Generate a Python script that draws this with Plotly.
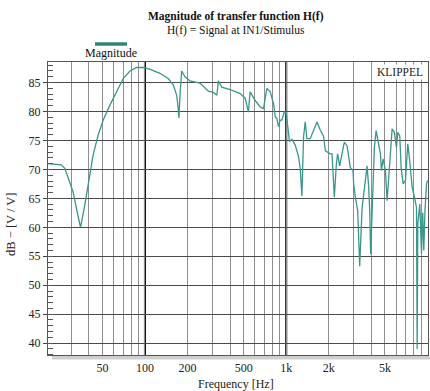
import numpy as np
import plotly.graph_objects as go

# ---------------- data ----------------
FREQ = [20.6, 22.5, 25.6, 27.1, 29.4, 31.0, 32.8, 35.0, 37.5, 39.6, 43.0, 46.6, 50.6,
        56.5, 63.0, 70.2, 78.3, 87.3, 97.3, 108, 127.7, 146, 158.7, 167.8, 172, 174,
        177, 180, 182, 192, 208, 245, 281, 305, 323, 331, 350, 401, 447, 472, 512,
        540, 555, 603, 654, 690, 730, 771, 792, 813, 836, 859, 882, 906, 931, 968,
        1000, 1021, 1055, 1097, 1158, 1222, 1256, 1291, 1326, 1363, 1401, 1479, 1562,
        1650, 1742, 1840, 1892, 1995, 2051, 2110, 2190, 2263, 2311, 2388, 2483, 2578,
        2694, 2766, 2843, 2971, 3000, 3084, 3205, 3311, 3443, 3632, 3734, 3835, 3900,
        3960, 4121, 4207, 4327, 4516, 4643, 4718, 4850, 5036, 5177, 5316, 5464, 5615,
        5830, 6024, 6155, 6362, 6508, 6722, 6980, 7250, 7486, 7787, 8084, 8356, 8451,
        8536, 8818, 9065, 9250, 9412, 9600, 9840, 10000]
DB = [71.0, 70.9, 70.8, 70.2, 67.8, 66.1, 63.2, 60.0, 63.8, 67.3, 72.5, 75.9, 78.5,
      81.1, 83.4, 85.7, 87.0, 87.6, 87.6, 87.3, 86.6, 85.7, 84.6, 82.8, 80.5, 78.9,
      82.8, 86.3, 87.0, 86.0, 85.3, 84.9, 83.5, 83.3, 82.8, 85.3, 84.2, 83.8, 83.3, 83.1, 82.3,
      79.9, 83.4, 81.9, 80.8, 80.5, 84.0, 83.4, 82.3, 81.4, 79.1, 78.8, 77.4, 78.5, 78.5, 79.9,
      79.7, 77.6, 74.8, 75.2, 74.2, 72.2, 70.2, 65.4, 75.6, 78.2, 75.3, 75.3, 76.8,
      78.2, 76.8, 75.7, 73.2, 72.9, 72.7, 72.7, 65.2, 70.9, 72.7, 70.6, 72.4, 74.7,
      74.1, 71.8, 70.3, 69.8, 67.5, 65.2, 62.9, 53.3, 63.4, 68.1, 70.6, 66.9, 62.9,
      55.4, 68.6, 73.8, 76.7, 74.4, 72.7, 69.8, 71.8, 69.8, 64.6, 68.6, 73.8, 77.0,
      76.4, 73.8, 76.4, 75.8, 70.3, 67.5, 68.1, 74.4, 71.5, 66.9, 65.2, 63.4, 39.0,
      60.6, 64.0, 55.5, 62.5, 56.0, 63.0, 67.5, 68.1]

X_TICK_VALS = [50, 100, 200, 500, 1000, 2000, 5000]
X_TICK_TEXT = ["50", "100", "200", "500", "1k", "2k", "5k"]
X_MINOR_GRID = [30, 40, 60, 70, 80, 90, 300, 400, 600, 700, 800, 900,
                3000, 4000, 6000, 7000, 8000, 9000]
DECADE_LINES = [100, 1000]
Y_TICKS = [40, 45, 50, 55, 60, 65, 70, 75, 80, 85]

# ---------------- layout geometry ----------------
W, H = 430, 391
ML, MR, MT, MB = 48, 2, 62, 36
PW, PH = W - ML - MR, H - MT - MB


def px_x(px):
    return (px - ML) / PW


def px_y(py):
    return (H - MB - py) / PH


LINE_COLOR = "#3a968a"
FONT = "Liberation Serif"

fig = go.Figure()
fig.add_trace(go.Scatter(x=FREQ, y=DB, mode="lines",
                         line=dict(color=LINE_COLOR, width=1.3),
                         showlegend=False, hoverinfo="skip"))

fig.update_layout(
    width=W, height=H,
    margin=dict(l=ML, r=MR, t=MT, b=MB),
    paper_bgcolor="white", plot_bgcolor="white",
    font=dict(family=FONT, size=12, color="#222"),
    showlegend=False,
)

fig.update_xaxes(
    type="log", range=[np.log10(20.6), np.log10(10080)],
    tickmode="array", tickvals=X_TICK_VALS, ticktext=X_TICK_TEXT,
    ticks="", ticklabelstandoff=2,
    showgrid=True, gridcolor="#8f8f8f", gridwidth=1,
    minor=dict(tickmode="array", tickvals=X_MINOR_GRID, showgrid=True,
               gridcolor="#8f8f8f", gridwidth=1, ticks=""),
    showline=True, linecolor="#555", linewidth=1, mirror=True,
    zeroline=False, tickfont=dict(family=FONT, size=12, color="#222"),
)

fig.update_yaxes(
    range=[37.95, 88.55],
    tickmode="array", tickvals=Y_TICKS,
    ticks="outside", ticklen=4, tickcolor="#444", tickwidth=1,
    showgrid=True, gridcolor="#4a4a4a", gridwidth=1,
    minor=dict(dtick=1, ticks="inside", ticklen=5, tickcolor="#555",
               tickwidth=1, showgrid=False),
    showline=True, linecolor="#555", linewidth=1, mirror=True,
    zeroline=False, tickfont=dict(family=FONT, size=12, color="#222"),
)

shapes = []
for d in DECADE_LINES:
    shapes.append(dict(type="line", xref="x", yref="paper", x0=d, x1=d, y0=0, y1=1,
                       line=dict(color="black", width=2), layer="between"))
# bottom shadow under the frame
shapes.append(dict(type="rect", xref="paper", yref="paper",
                   x0=px_x(52), x1=px_x(430), y0=px_y(359.5), y1=px_y(356),
                   fillcolor="#cfcfcf", line=dict(width=0), layer="below"))
# legend swatch
shapes.append(dict(type="rect", xref="paper", yref="paper",
                   x0=px_x(95), x1=px_x(127), y0=px_y(45.7), y1=px_y(42.3),
                   fillcolor="#2e8077", line=dict(width=0)))
fig.update_layout(shapes=shapes)

annotations = [
    dict(text="<b>Magnitude of transfer function H(f)</b>", x=px_x(236), y=px_y(17),
         font=dict(size=11.5, family=FONT, color="#111")),
    dict(text="H(f) = Signal at IN1/Stimulus", x=px_x(236), y=px_y(30.5),
         font=dict(size=11.5, family=FONT, color="#111")),
    dict(text="Magnitude", x=px_x(110.5), y=px_y(53.5),
         font=dict(size=12, family=FONT, color="#111")),
    dict(text="KLIPPEL", x=px_x(400), y=px_y(71.5), bgcolor="white", borderpad=1,
         font=dict(size=11.5, family=FONT, color="#222")),
    dict(text="dB − [V / V]", x=px_x(11), y=px_y(224), textangle=-90,
         font=dict(size=12.5, family=FONT, color="#222")),
    dict(text="Frequency [Hz]", x=px_x(236), y=px_y(384),
         font=dict(size=12, family=FONT, color="#222")),
]
for a in annotations:
    a.update(xref="paper", yref="paper", showarrow=False,
             xanchor="center", yanchor="middle")
fig.update_layout(annotations=annotations)

fig.write_html("out.html")
